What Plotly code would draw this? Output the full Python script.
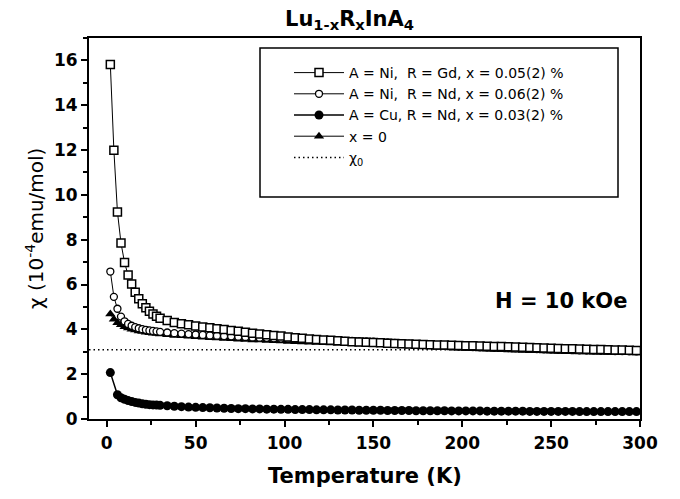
import plotly.graph_objects as go

# Temperature grids (K)
T_main = [2, 4, 6, 8, 10, 12, 14, 16, 18, 20,
          22, 24, 26, 28, 30, 34, 38, 42, 46, 50,
          54, 58, 62, 66, 70, 74, 78, 82, 86, 90,
          94, 98, 102, 106, 110, 114, 118, 122, 126, 130,
          134, 138, 142, 146, 150, 154, 158, 162, 166, 170,
          174, 178, 182, 186, 190, 194, 198, 202, 206, 210,
          214, 218, 222, 226, 230, 234, 238, 242, 246, 250,
          254, 258, 262, 266, 270, 274, 278, 282, 286, 290,
          294, 298]
T_cu = [2, 6, 8, 10, 12, 14, 16, 18, 20,
        22, 24, 26, 28, 30, 34, 38, 42, 46, 50,
        54, 58, 62, 66, 70, 74, 78, 82, 86, 90,
        94, 98, 102, 106, 110, 114, 118, 122, 126, 130,
        134, 138, 142, 146, 150, 154, 158, 162, 166, 170,
        174, 178, 182, 186, 190, 194, 198, 202, 206, 210,
        214, 218, 222, 226, 230, 234, 238, 242, 246, 250,
        254, 258, 262, 266, 270, 274, 278, 282, 286, 290,
        294, 298]

# susceptibility (10^-4 emu/mol)
chi_ni_gd = [15.82, 11.99, 9.24, 7.85, 6.98, 6.42, 6.02, 5.66, 5.37, 5.14,
             4.96, 4.81, 4.68, 4.58, 4.50, 4.39, 4.31, 4.25, 4.20, 4.15,
             4.11, 4.07, 4.03, 3.99, 3.95, 3.91, 3.87, 3.83, 3.79, 3.76,
             3.73, 3.70, 3.66, 3.63, 3.60, 3.57, 3.55, 3.53, 3.51, 3.49,
             3.47, 3.45, 3.44, 3.42, 3.41, 3.40, 3.38, 3.37, 3.36, 3.35,
             3.33, 3.32, 3.31, 3.30, 3.30, 3.29, 3.28, 3.27, 3.27, 3.26,
             3.25, 3.24, 3.23, 3.22, 3.21, 3.20, 3.19, 3.18, 3.17, 3.16,
             3.15, 3.14, 3.13, 3.12, 3.11, 3.10, 3.10, 3.09, 3.08, 3.08,
             3.07, 3.06]
chi_ni_nd = [6.58, 5.45, 4.92, 4.57, 4.36, 4.24, 4.16, 4.10, 4.05, 4.01,
             3.98, 3.95, 3.93, 3.91, 3.89, 3.86, 3.83, 3.81, 3.79, 3.77,
             3.75, 3.73, 3.72, 3.70, 3.69, 3.67, 3.66, 3.64, 3.63, 3.62,
             3.60, 3.59, 3.58, 3.57, 3.55, 3.54, 3.53, 3.52, 3.51, 3.50,
             3.49, 3.48, 3.47, 3.46, 3.45, 3.43, 3.42, 3.40, 3.38, 3.36,
             3.34, 3.32, 3.30, 3.28, 3.26, 3.24, 3.23, 3.22, 3.21, 3.20,
             3.19, 3.18, 3.17, 3.16, 3.15, 3.14, 3.13, 3.12, 3.11, 3.10,
             3.09, 3.08, 3.07, 3.06, 3.05, 3.05, 3.04, 3.04, 3.03, 3.03,
             3.02, 3.02]
chi_cu_nd = [2.07, 1.08, 0.95, 0.88, 0.82, 0.78, 0.74, 0.71, 0.68,
             0.66, 0.64, 0.63, 0.62, 0.61, 0.59, 0.57, 0.55, 0.53, 0.52,
             0.51, 0.50, 0.49, 0.48, 0.47, 0.46, 0.46, 0.45, 0.45, 0.44,
             0.44, 0.43, 0.43, 0.42, 0.42, 0.42, 0.41, 0.41, 0.41, 0.40,
             0.40, 0.40, 0.39, 0.39, 0.39, 0.39, 0.38, 0.38, 0.38, 0.38,
             0.37, 0.37, 0.37, 0.37, 0.37, 0.36, 0.36, 0.36, 0.36, 0.36,
             0.35, 0.35, 0.35, 0.35, 0.35, 0.35, 0.34, 0.34, 0.34, 0.34,
             0.34, 0.34, 0.34, 0.33, 0.33, 0.33, 0.33, 0.33, 0.33, 0.33,
             0.33, 0.33]
chi_x0 = [4.68, 4.45, 4.30, 4.20, 4.12, 4.06, 4.01, 3.97, 3.93, 3.90,
          3.87, 3.85, 3.83, 3.81, 3.79, 3.76, 3.73, 3.71, 3.69, 3.67,
          3.65, 3.63, 3.61, 3.59, 3.58, 3.56, 3.55, 3.53, 3.52, 3.50,
          3.49, 3.48, 3.46, 3.45, 3.44, 3.43, 3.41, 3.40, 3.39, 3.38,
          3.37, 3.36, 3.35, 3.34, 3.33, 3.31, 3.30, 3.29, 3.27, 3.26,
          3.24, 3.23, 3.22, 3.20, 3.19, 3.17, 3.16, 3.15, 3.14, 3.12,
          3.11, 3.10, 3.09, 3.08, 3.07, 3.06, 3.05, 3.04, 3.03, 3.02,
          3.01, 3.00, 3.00, 2.99, 2.99, 2.98, 2.98, 2.97, 2.97, 2.96,
          2.96, 2.95]
chi0 = 3.09

x_range = [-10, 300]
y_range = [0, 17]
x_ticks = [0, 50, 100, 150, 200, 250, 300]
y_ticks = [0, 2, 4, 6, 8, 10, 12, 14, 16]

names = ["A = Ni,\u00a0 R = Gd, x = 0.05(2) %",
         "A = Ni,\u00a0 R = Nd, x = 0.06(2) %",
         "A = Cu, R = Nd, x = 0.03(2) %",
         "x = 0",
         "\u03c7<sub>0</sub>"]

BOLD = "DejaVu Sans"
fig = go.Figure()

fig.add_trace(go.Scatter(x=x_range, y=[chi0, chi0], mode="lines", name=names[4],
                         line=dict(color="black", width=1.5, dash="1.5px,3px"),
                         legendrank=5))
fig.add_trace(go.Scatter(x=T_cu, y=chi_cu_nd, mode="lines+markers", name=names[2],
                         line=dict(color="black", width=1.5),
                         marker=dict(symbol="circle", size=9, color="black"),
                         legendrank=3))
fig.add_trace(go.Scatter(x=T_main, y=chi_x0, mode="lines+markers", name=names[3],
                         line=dict(color="black", width=1),
                         marker=dict(symbol="triangle-up", size=9, color="black"),
                         legendrank=4))
fig.add_trace(go.Scatter(x=T_main, y=chi_ni_nd, mode="lines+markers", name=names[1],
                         line=dict(color="black", width=1),
                         marker=dict(symbol="circle", size=7, color="white",
                                     line=dict(color="black", width=1.3)),
                         legendrank=2))
fig.add_trace(go.Scatter(x=T_main, y=chi_ni_gd, mode="lines+markers", name=names[0],
                         line=dict(color="black", width=1),
                         marker=dict(symbol="square", size=8, color="white",
                                     line=dict(color="black", width=1.5)),
                         legendrank=1))

axis_common = dict(showline=True, linecolor="black", linewidth=2, mirror=True,
                   showgrid=False, zeroline=False, ticks="outside", ticklen=6,
                   tickwidth=2, tickcolor="black", automargin=False,
                   tickfont=dict(family=BOLD, size=17, color="black", weight="bold"))

fig.update_xaxes(range=x_range, tickvals=x_ticks,
                 minor=dict(ticks="outside", ticklen=4, tickwidth=2, dtick=25,
                            tick0=0, tickcolor="black"),
                 ticklabelstandoff=2, **axis_common)
fig.update_yaxes(range=y_range, tickvals=y_ticks,
                 minor=dict(ticks="outside", ticklen=4, tickwidth=2, dtick=1,
                            tick0=0, tickcolor="black"),
                 **axis_common)

# page offset of the plot div (browser default body margin)
OFF = 8
W, H = 672, 491
L, R, T, B = 81, 40, 30, 80
pw, ph = W - L - R, H - T - B


def px(x):
    return (x - OFF - L) / pw


def py(y):
    return (OFF + H - B - y) / ph


fig.add_shape(type="rect", xref="paper", yref="paper",
              x0=px(260), x1=px(618), y0=py(197), y1=py(48),
              line=dict(color="black", width=1.5), fillcolor="rgba(0,0,0,0)")

fig.add_annotation(xref="paper", yref="paper", x=px(349), y=py(20),
                   text="<b>Lu<sub>1-x</sub>R<sub>x</sub>InA<sub>4</sub></b>",
                   showarrow=False, xanchor="center", yanchor="middle",
                   font=dict(family=BOLD, size=21, color="black"))
fig.add_annotation(xref="paper", yref="paper", x=px(365), y=py(476),
                   text="<b>Temperature (K)</b>", showarrow=False,
                   xanchor="center", yanchor="middle",
                   font=dict(family=BOLD, size=21, color="black"))
fig.add_annotation(xref="paper", yref="paper", x=px(35), y=py(229),
                   text="\u03c7 (10<sup>-4</sup>emu/mol)", showarrow=False,
                   textangle=-90, xanchor="center", yanchor="middle",
                   font=dict(family="DejaVu Sans", size=20, color="black"))
fig.add_annotation(xref="paper", yref="paper", x=px(561), y=py(301),
                   text="<b>H = 10 kOe</b>", showarrow=False,
                   xanchor="center", yanchor="middle",
                   font=dict(family=BOLD, size=21, color="black"))

fig.update_layout(
    width=W, height=H,
    margin=dict(l=L, r=R, t=T, b=B, autoexpand=False),
    paper_bgcolor="white", plot_bgcolor="white",
    showlegend=True,
    legend=dict(x=px(289), y=py(57), xanchor="left", yanchor="top",
                bgcolor="rgba(0,0,0,0)", borderwidth=0, itemwidth=50,
                traceorder="normal",
                font=dict(family="DejaVu Sans", size=14, color="black")),
    font=dict(family="DejaVu Sans", color="black"),
)

fig.write_html("out.html")
